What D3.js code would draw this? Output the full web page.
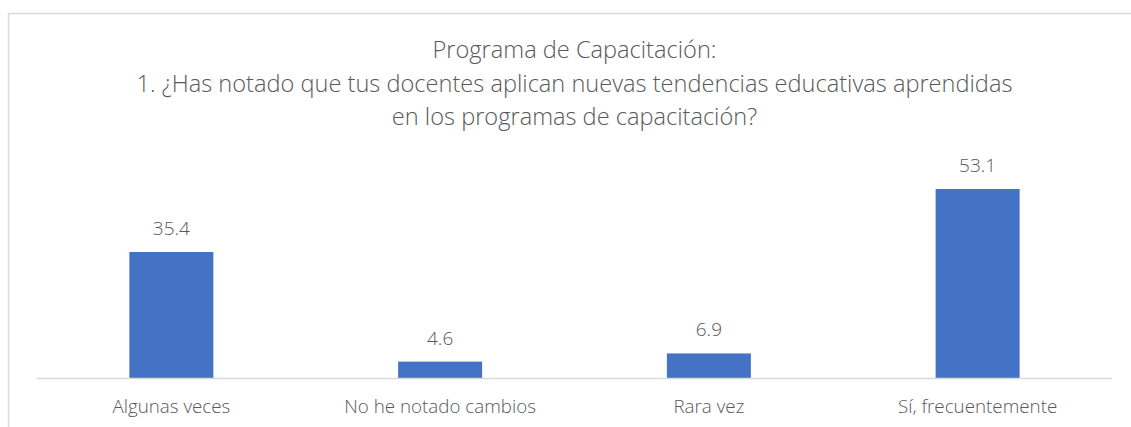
<!DOCTYPE html>
<html>
<head>
<meta charset="utf-8">
<script src="https://cdnjs.cloudflare.com/ajax/libs/d3/7.8.5/d3.min.js"></script>
<style>
  body { margin: 0; background: #fff; }
  text { font-family: "Open Sans", Lato, sans-serif; font-weight: 300; fill: #595959; }
</style>
</head>
<body>
<div id="chart-area"></div>
<script>
// data
var categories = ["Algunas veces", "No he notado cambios", "Rara vez", "Sí, frecuentemente"];
var values = [35.4, 4.6, 6.9, 53.1];
var titleLines = [
  "Programa de Capacitación:",
  "1. ¿Has notado que tus docentes aplican nuevas tendencias educativas aprendidas",
  "en los programas de capacitación?"
];

var width = 1131, height = 427;

var svg = d3.select("#chart-area").append("svg")
  .attr("width", width)
  .attr("height", height);

// chart frame (cut off on right and bottom)
svg.append("rect")
  .attr("x", 8.5)
  .attr("y", 13.5)
  .attr("width", 1140)
  .attr("height", 440)
  .attr("fill", "none")
  .attr("stroke", "#d9d9d9")
  .attr("stroke-width", 1.5);

var plotLeft = 37, plotRight = 1112, baseY = 378;

var x = d3.scaleBand()
  .domain(categories)
  .range([plotLeft, plotRight])
  .paddingInner(0.6875)
  .paddingOuter(0.34375);

var y = d3.scaleLinear()
  .domain([0, 53.1])
  .range([baseY, 189]);

var data = categories.map((c, i) => ({ cat: c, val: values[i] }));

svg.selectAll("rect.bar").data(data)
  .enter().append("rect")
  .attr("class", "bar")
  .attr("x", d => x(d.cat))
  .attr("y", d => y(d.val))
  .attr("width", x.bandwidth())
  .attr("height", d => baseY - y(d.val))
  .attr("fill", "#4472c4");

// baseline
svg.append("line")
  .attr("x1", plotLeft)
  .attr("x2", plotRight)
  .attr("y1", baseY + 0.5)
  .attr("y2", baseY + 0.5)
  .attr("stroke", "#d9d9d9")
  .attr("stroke-width", 1.5);

// data labels
svg.selectAll("text.val").data(data)
  .enter().append("text")
  .attr("class", "val")
  .attr("x", d => x(d.cat) + x.bandwidth() / 2)
  .attr("y", d => y(d.val) - 17)
  .attr("text-anchor", "middle")
  .attr("font-size", 19)
  .text(d => d.val.toFixed(1));

// category labels
var xAxis = svg.append("g")
  .attr("transform", "translate(0," + baseY + ")")
  .call(d3.axisBottom(x).tickSize(0).tickPadding(0));
xAxis.select(".domain").remove();
xAxis.selectAll("text")
  .attr("y", 35)
  .attr("dy", null)
  .attr("font-size", 18.8)
  .style("font-family", "'Open Sans', Lato, sans-serif")
  .style("font-weight", 300)
  .attr("fill", "#595959");

// title
svg.selectAll("text.title").data(titleLines)
  .enter().append("text")
  .attr("class", "title")
  .attr("x", (plotLeft + plotRight) / 2)
  .attr("y", (d, i) => 58 + i * 33.5)
  .attr("text-anchor", "middle")
  .attr("font-size", 23.6)
  .text(d => d);
</script>
</body>
</html>
